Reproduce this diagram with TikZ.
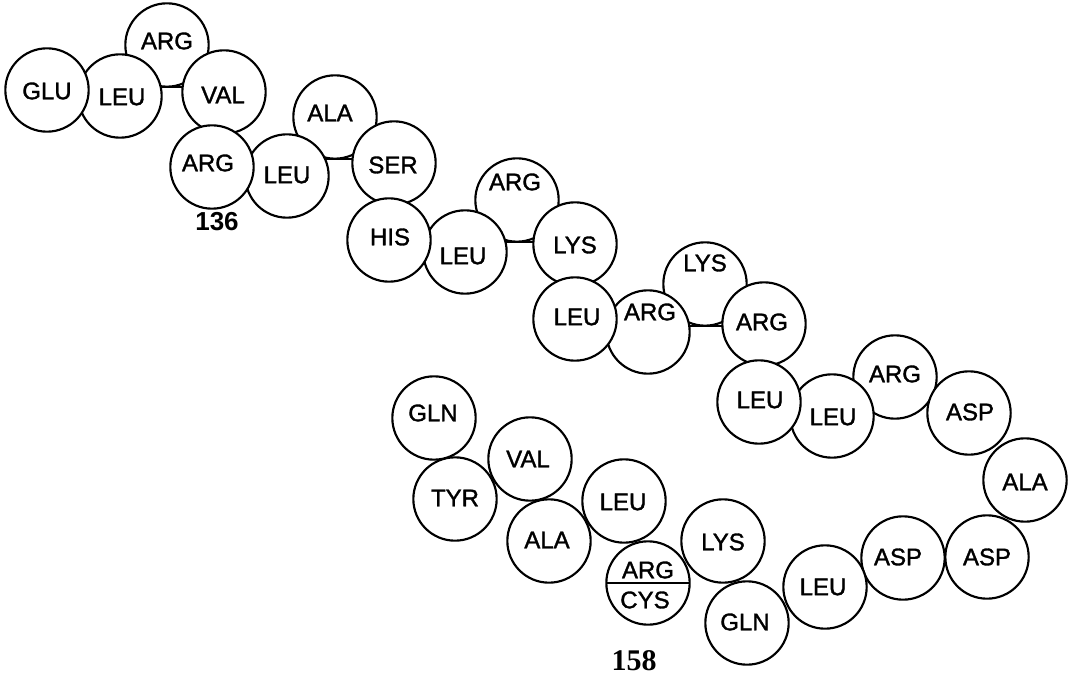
\documentclass[tikz,border=0pt]{standalone}
\usepackage{fontspec}
\setmainfont{Liberation Serif}
\setsansfont{Liberation Sans}
\newfontfamily\labfont{Liberation Sans}[FakeBold=1.4]
\usetikzlibrary{calc,backgrounds}
\newcommand\resid[2]{\node[res] (#1) at (#2) {};}
\newcommand\rlab[3]{\node[lab] (#1t) at ($(#1)+(#2)$) {#3};}
\begin{document}
\begin{tikzpicture}[x=0.75pt,y=-0.75pt,
  res/.style={circle,draw,line width=1.6pt,fill=white,minimum size=62.5pt,inner sep=0pt,outer sep=0pt},
  lab/.style={font=\labfont\fontsize{18}{18}\selectfont,inner sep=0pt},
  num/.style={inner sep=0pt},
  conn/.style={line width=1.6pt}]
\useasboundingbox (0,0) rectangle (1069,680);
% circles, bottom layer first
\resid{ARGa}{167,45}
\resid{LEUa}{120,96}
\resid{GLUa}{47,90}
\resid{VALa}{224,92}
\resid{ALAa}{335,117}
\resid{LEUb}{287,176}
\resid{ARGb}{212,167}
\resid{SERa}{394,163}
\resid{ARGc}{517,200}
\resid{LEUc}{465,252}
\resid{HISa}{389,240}
\resid{LYSa}{575,244}
\resid{LYSb}{705,284}
\resid{ARGd}{648,332}
\resid{LEUd}{575,319}
\resid{ARGe}{764,324}
\resid{ARGf}{895,377}
\resid{LEUf}{832,416}
\resid{LEUe}{759,402}
\resid{ASPa}{969,413}
\resid{ALAb}{1025,480}
\resid{ASPc}{987,557}
\resid{ASPb}{903,558}
\resid{LEUg}{825,587}
\resid{GLNb}{747,623}
\resid{LYSc}{723,541}
\resid{AC}{648,583}
\resid{LEUh}{624,501}
\resid{ALAc}{549,541}
\resid{VALb}{530,459}
\resid{TYRa}{455,499}
\resid{GLNa}{434,418}
% connectors, behind the circles, along the lower edge of the residue above
\begin{pgfonlayer}{background}
\draw[conn] (ARGa.south -| LEUa.center) -- (ARGa.south -| VALa.center);
\draw[conn] (ALAa.south -| LEUb.center) -- (ALAa.south -| SERa.center);
\draw[conn] (ARGc.south -| LEUc.center) -- (ARGc.south -| LYSa.center);
\draw[conn] (LYSb.south -| ARGd.center) -- (LYSb.south -| ARGe.center);
\end{pgfonlayer}
\draw[conn] (AC.west) -- (AC.east);
% labels
\rlab{GLUa}{0,1}{GLU}
\rlab{LEUa}{2,1}{LEU}
\rlab{ARGa}{0,-4}{ARG}
\rlab{VALa}{-1,3}{VAL}
\rlab{ARGb}{-4,-4}{ARG}
\rlab{LEUb}{0,-1}{LEU}
\rlab{ALAa}{-5,-4}{ALA}
\rlab{SERa}{-1,2}{SER}
\rlab{HISa}{1,-3}{HIS}
\rlab{LEUc}{-2,4}{LEU}
\rlab{ARGc}{-2,-18}{ARG}
\rlab{LYSa}{0,1}{LYS}
\rlab{LEUd}{2,-2}{LEU}
\rlab{ARGd}{2,-20}{ARG}
\rlab{LYSb}{0,-21}{LYS}
\rlab{ARGe}{-2,-2}{ARG}
\rlab{LEUe}{1,-2}{LEU}
\rlab{LEUf}{1,1}{LEU}
\rlab{ARGf}{0,-3}{ARG}
\rlab{ASPa}{1,-1}{ASP}
\rlab{ALAb}{0,2}{ALA}
\rlab{ASPc}{0,0}{ASP}
\rlab{ASPb}{-5,-1}{ASP}
\rlab{LEUg}{-2,0}{LEU}
\rlab{GLNb}{-2,-1}{GLN}
\rlab{LYSc}{0,1}{LYS}
\rlab{LEUh}{-1,1}{LEU}
\rlab{ALAc}{-2,-1}{ALA}
\rlab{VALb}{-2,0}{VAL}
\rlab{TYRa}{0,-1}{TYR}
\rlab{GLNa}{-1,-5}{GLN}
\node[lab] (ACt) at ($(AC)+(0,-13)$) {ARG};
\node[lab] (ACb) at ($(AC)+(-3,17)$) {CYS};
% residue numbers
\node[num,font=\sffamily\bfseries\fontsize{19.5}{19.5}\selectfont] (n136) at (217,222) {136};
\node[num,font=\rmfamily\bfseries\fontsize{22.5}{22.5}\selectfont] (n158) at (634,661) {158};
\end{tikzpicture}
\end{document}
